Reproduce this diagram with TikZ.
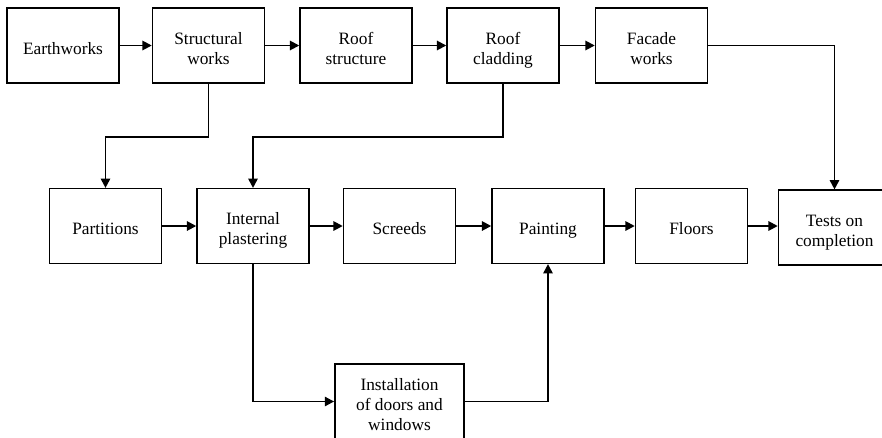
\documentclass[tikz,border=0pt]{standalone}
\usepackage{fontspec}
\setmainfont{Liberation Serif}
\usetikzlibrary{arrows.meta}

\begin{document}
\begin{tikzpicture}[x=0.75pt,y=-0.75pt,
  task/.style={draw,line width=1.1pt,minimum width=84pt,minimum height=56pt,
    inner sep=0pt,align=center,font=\fontsize{13}{15}\selectfont,
    text height=17.5pt,text depth=4.5pt},
  two/.style={text height=32.5pt},
  three/.style={text height=47.5pt},
  flow/.style={line width=1.4pt,-{Triangle[length=7pt,width=7pt]}}]
\useasboundingbox(0,0)rectangle(882,437);
\clip(0,0)rectangle(882,437);
\node[task](earth)at(63,45.5){Earthworks};
\node[task,two](struct)at(208.5,45.5){Structural\\works};
\node[task,two](rstruct)at(356,45.5){Roof\\structure};
\node[task,two](rclad)at(503,45.5){Roof\\cladding};
\node[task,two](facade)at(651.5,45.5){Facade\\works};
\node[task](partit)at(105.5,226){Partitions};
\node[task,two](intpl)at(253,226){Internal\\plastering};
\node[task](screeds)at(399.5,226){Screeds};
\node[task](paint)at(548,226){Painting};
\node[task](floors)at(691.5,226){Floors};
\node[task,two](tests)at(834.5,227.5){Tests on\\completion};
\node[task,three,minimum width=97pt](inst)at(399.5,401.5){Installation\\of doors and\\windows};
\draw[flow](earth)--(struct);
\draw[flow](struct)--(rstruct);
\draw[flow](rstruct)--(rclad);
\draw[flow](rclad)--(facade);
\draw[flow](partit)--(intpl);
\draw[flow](intpl)--(screeds);
\draw[flow](screeds)--(paint);
\draw[flow](paint)--(floors);
\draw[flow](floors.east)--(floors.east-|tests.west);
\draw[flow](struct.south)--++(0,53)-|(partit.north);
\draw[flow](rclad.south)--++(0,53)-|(intpl.north);
\draw[flow](facade.east)-|(tests.north);
\draw[flow](intpl.south)|-(inst.west);
\draw[flow](inst.east)-|(paint.south);
\end{tikzpicture}
\end{document}
